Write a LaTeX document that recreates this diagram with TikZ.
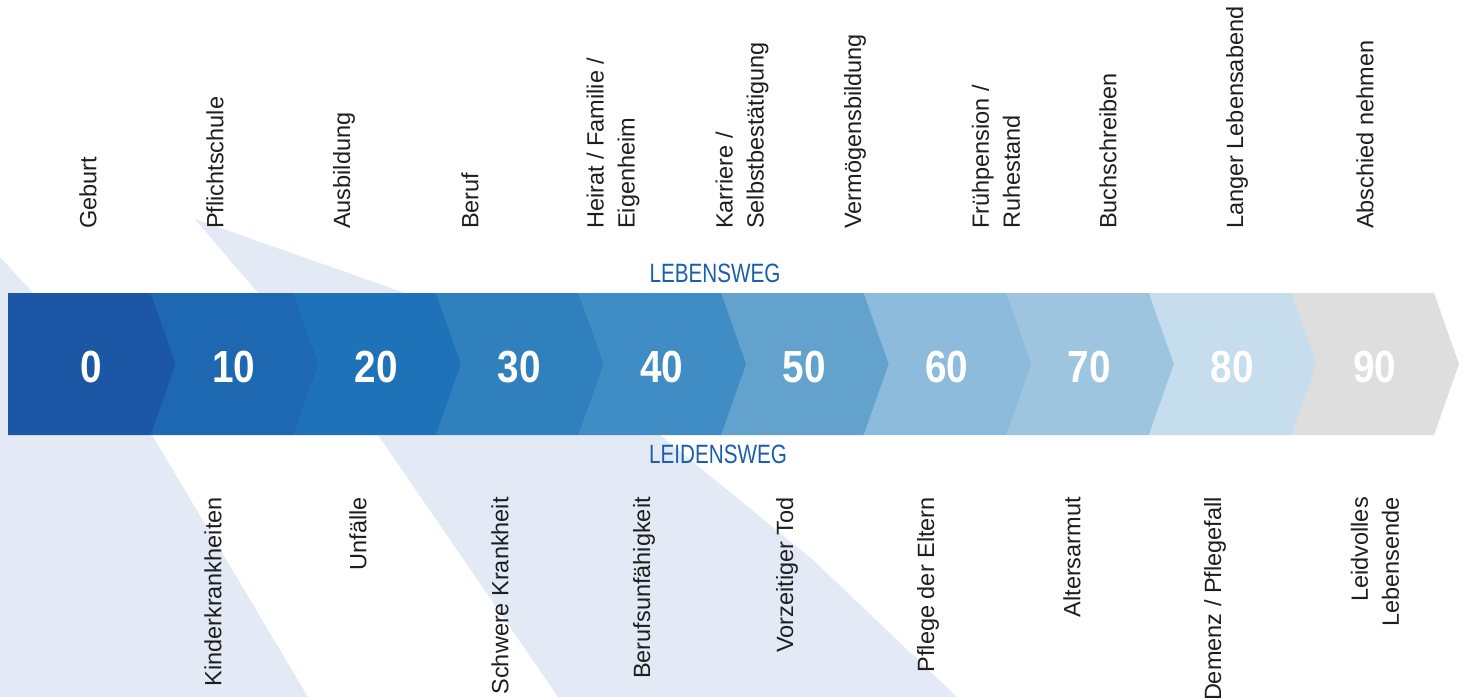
\documentclass[tikz,border=0pt]{standalone}
\usepackage{fontspec}
\setmainfont{Liberation Sans}
\newfontfamily\narrowfont[FakeStretch=0.78]{Liberation Sans}
\newfontfamily\numfont[FakeStretch=0.86]{Liberation Sans}
\definecolor{paleblue}{HTML}{E3EAF6}
\definecolor{wegblue}{HTML}{1A5FAE}
\definecolor{labelgray}{HTML}{1E1E1E}
\definecolor{age0}{HTML}{1C57A5}
\definecolor{age10}{HTML}{1D68B0}
\definecolor{age20}{HTML}{1E73B8}
\definecolor{age30}{HTML}{3080BE}
\definecolor{age40}{HTML}{408CC5}
\definecolor{age50}{HTML}{62A2CC}
\definecolor{age60}{HTML}{8CBBDC}
\definecolor{age70}{HTML}{9EC5E0}
\definecolor{age80}{HTML}{C6DDEE}
\definecolor{age90}{HTML}{DEDEDE}
\begin{document}
\begin{tikzpicture}[x=1pt,y=-1pt,
    stage/.style={font=\numfont\bfseries\fontsize{45}{54}\selectfont, text=white, inner sep=0pt},
    top label/.style={rotate=90, anchor=west, align=left, inner sep=0pt, text=labelgray,
      font=\fontsize{23.5}{31}\selectfont},
    bottom label/.style={rotate=90, anchor=east, align=right, inner sep=0pt, text=labelgray,
      font=\fontsize{23.5}{31}\selectfont},
    weg/.style={text=wegblue, inner sep=0pt, font=\narrowfont\fontsize{26.5}{30}\selectfont}]
  \useasboundingbox (0,0) rectangle (1467,697);

  % light background shapes
  \fill[paleblue] (0,257) -- (33,293) -- (152,435) -- (308,697) -- (0,697) -- cycle;
  \fill[paleblue] (195,219) -- (405,293) -- (660,435) -- (813,560) -- (957,697)
    -- (558,697) -- (378,435) -- (258,293) -- cycle;

  % chevron band, drawn right to left so each tip lies on top
  \foreach \k in {9,8,...,0} {
    \pgfmathsetmacro\xl{8+142.6*\k}
    \pgfmathsetmacro\xr{8+142.6*(\k+1)}
    \pgfmathtruncatemacro\age{10*\k}
    \fill[age\age] (\xl,293) -- (\xr,293) -- (\xr+25,364) -- (\xr,435) -- (\xl,435) -- cycle;
    \node[stage] (age\age) at (\xl/2+\xr/2+12,367) {\age};
  }

  \node[weg] (lebensweg) at (715,273) {LEBENSWEG};
  \node[weg] (leidensweg) at (718,454) {LEIDENSWEG};

  % Lebensweg
  \node[top label] (geburt) at (88,229) {Geburt};
  \node[top label] (schule) at (215,229) {Pflichtschule};
  \node[top label] (ausbildung) at (344,229) {Ausbildung};
  \node[top label] (beruf) at (470,229) {Beruf};
  \node[top label] (heirat) at (613,229) {Heirat / Familie /\\Eigenheim};
  \node[top label] (karriere) at (742,229) {Karriere /\\Selbstbestätigung};
  \node[top label] (vermoegen) at (855,229) {Vermögensbildung};
  \node[top label] (pension) at (996,229) {Frühpension /\\Ruhestand};
  \node[top label] (buch) at (1108,229) {Buchschreiben};
  \node[top label] (abend) at (1237,229) {Langer Lebensabend};
  \node[top label] (abschied) at (1365,229) {Abschied nehmen};

  % Leidensweg
  \node[bottom label] (kinder) at (213,497) {Kinderkrankheiten};
  \node[bottom label] (unfaelle) at (358,497) {Unfälle};
  \node[bottom label] (krankheit) at (500,497) {Schwere Krankheit};
  \node[bottom label] (bu) at (644,497) {Berufsunfähigkeit};
  \node[bottom label] (tod) at (787,497) {Vorzeitiger Tod};
  \node[bottom label] (eltern) at (928,497) {Pflege der Eltern};
  \node[bottom label] (armut) at (1072,497) {Altersarmut};
  \node[bottom label] (demenz) at (1215,497) {Demenz / Pflegefall};
  \node[bottom label] (ende) at (1375,497) {Leidvolles\\Lebensende};
\end{tikzpicture}
\end{document}
